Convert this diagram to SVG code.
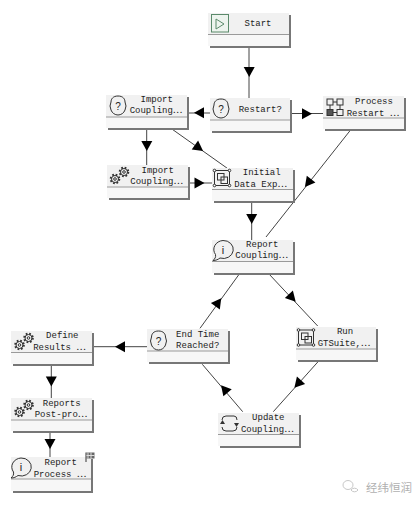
<svg xmlns="http://www.w3.org/2000/svg" width="418" height="505" viewBox="0 0 418 505">
<style>
.t{font-family:"Liberation Mono","DejaVu Sans Mono",monospace;font-size:9px;fill:#222;text-anchor:middle}
.e{font-family:"Noto Sans CJK SC",sans-serif}
.box{fill:#f1f1f1}
.low{fill:#f7f7f7}
.sh{fill:#777;filter:url(#b)}
.div{stroke:#9a9a9a;stroke-width:1;fill:none}
.i{fill:none;stroke:#333;stroke-width:1}
.c{stroke:#444;stroke-width:1;fill:none}
.wm{font-family:"Noto Sans CJK SC",sans-serif;font-size:11.5px;fill:#b0b0b0}
</style>
<defs>
<filter id="b" x="-10%" y="-10%" width="120%" height="120%"><feGaussianBlur stdDeviation="0.7"/></filter>
<polygon id="ah" points="5,0 -5,-5.500 -5,5.500" fill="#000"/>
<g id="q"><path class="i" d="M8 0C3 0 1 3 1 6L0 10L1 14C2 17 5 19 8 19C11 19 14 17 15 14L16 10L15 6C15 3 13 0 8 0Z"/><text x="8" y="13.500" class="t" style="font-family:'Liberation Sans',sans-serif;font-size:10px">?</text></g>
<g id="gear"><g class="i"><circle cx="6" cy="12" r="4.300" stroke-width="2" stroke-dasharray="1.700 1.700"/><circle cx="6" cy="12" r="3.500"/><circle cx="6" cy="12" r="1.300"/><circle cx="15" cy="5" r="4.300" stroke-width="2" stroke-dasharray="1.700 1.700"/><circle cx="15" cy="5" r="3.500"/><circle cx="15" cy="5" r="1.300"/></g></g>
<g id="info"><path class="i" d="M10 0A10 9 0 1 1 7 17.500C5 19 3 20 0 20C2 18 3 17 2.500 14A10 9 0 0 1 10 0Z"/><text x="10" y="13" class="t" style="font-family:'Liberation Sans',sans-serif;font-size:11px">i</text></g>
<g id="frame"><rect class="i" x="1" y="1" width="15" height="15" stroke-width="1.200"/><rect class="i" x="4" y="4" width="6.500" height="6.500"/><rect class="i" x="7.500" y="7.500" width="6.500" height="6.500"/><g fill="#fff" stroke="#333"><circle cx="1" cy="1" r="1.300"/><circle cx="16" cy="1" r="1.300"/><circle cx="1" cy="16" r="1.300"/><circle cx="16" cy="16" r="1.300"/></g></g>
</defs>

<g id="connectors">
<path class="c" d="M249 46V98M187 113H210M290 113.500H323M146.700 128V165M172.300 129.300L227.300 168.300M188 183H212M350 130.700L266 237M251.700 201V240M239.300 274L200 328.300M269 274L317.700 326M318.700 361L273.300 411.700M242.700 411.700L202.300 364.300M147 346.700H92M51.300 365V398M50 432V457"/>
<use href="#ah" transform="translate(249.200,72) rotate(90)"/>
<use href="#ah" transform="translate(199,112.700) rotate(180)"/>
<use href="#ah" transform="translate(307,113.700)"/>
<use href="#ah" transform="translate(146.800,146) rotate(90)"/>
<use href="#ah" transform="translate(199,148) rotate(35.300)"/>
<use href="#ah" transform="translate(199.500,183)"/>
<use href="#ah" transform="translate(308,183) rotate(128.400)"/>
<use href="#ah" transform="translate(251.700,219) rotate(90)"/>
<use href="#ah" transform="translate(218.300,302.300) rotate(-54)"/>
<use href="#ah" transform="translate(292.300,298) rotate(46.900)"/>
<use href="#ah" transform="translate(297.700,384) rotate(131.800)"/>
<use href="#ah" transform="translate(224.300,389) rotate(-130.400)"/>
<use href="#ah" transform="translate(120,346.700) rotate(180)"/>
<use href="#ah" transform="translate(51.300,381.500) rotate(90)"/>
<use href="#ah" transform="translate(50,444) rotate(90)"/>
</g>

<g id="n-start"><rect class="sh" x="210" y="15" width="81" height="33"/><rect class="low" x="208" y="13" width="81" height="33"/><rect class="box" x="208" y="13" width="81" height="21"/><path class="div" d="M208 34.500H289"/><rect x="211.500" y="14.500" width="17" height="17.500" fill="#edf4ee" stroke="#5b8a6b"/><path d="M216 19V29L224 24Z" fill="none" stroke="#5b8a6b"/><text class="t" x="258" y="26">Start</text></g>

<g id="n-import1"><rect class="sh" x="108" y="97" width="81" height="33"/><rect class="low" x="106" y="95" width="81" height="33"/><rect class="box" x="106" y="95" width="81" height="22"/><path class="div" d="M106 117H187"/><use href="#q" x="110" y="96"/><text class="t" x="156.700" y="101.700">Import</text><text class="t" x="156" y="113">Coupling<tspan class="e">…</tspan></text></g>

<g id="n-restart"><rect class="sh" x="212" y="100" width="80" height="33"/><rect class="low" x="210" y="98" width="80" height="33"/><rect class="box" x="210" y="98" width="80" height="22"/><path class="div" d="M210 120H290"/><use href="#q" x="213" y="99"/><text class="t" x="260.300" y="111.700">Restart?</text></g>

<g id="n-process"><rect class="sh" x="325" y="98" width="81" height="33"/><rect class="low" x="323" y="96" width="81" height="33"/><rect class="box" x="323" y="96" width="81" height="22"/><path class="div" d="M323 118H404"/><g class="i"><rect x="327" y="99" width="6" height="6"/><rect x="337" y="99" width="6" height="6"/><rect x="327" y="109.500" width="6" height="6" fill="#555"/><rect x="337" y="109.500" width="6" height="6"/><path d="M333 102H337M333 112.500H337M330 105V109.500M340 105V109.500"/></g><text class="t" x="374" y="104">Process</text><text class="t" x="373" y="115.700">Restart <tspan class="e">…</tspan></text></g>

<g id="n-import2"><rect class="sh" x="109" y="167" width="81" height="33"/><rect class="low" x="107" y="165" width="81" height="33"/><rect class="box" x="107" y="165" width="81" height="22"/><path class="div" d="M107 187H188"/><use href="#gear" x="109" y="167"/><text class="t" x="157.700" y="172.700">Import</text><text class="t" x="156.700" y="184">Coupling<tspan class="e">…</tspan></text></g>

<g id="n-initial"><rect class="sh" x="214" y="170" width="81" height="33"/><rect class="low" x="212" y="168" width="81" height="33"/><rect class="box" x="212" y="168" width="81" height="21"/><path class="div" d="M212 189.500H293"/><use href="#frame" x="213.500" y="169.500"/><text class="t" x="261.700" y="175">Initial</text><text class="t" x="260.700" y="186.700">Data Exp<tspan class="e">…</tspan></text></g>

<g id="n-report"><rect class="sh" x="214" y="242" width="81" height="33"/><rect class="low" x="212" y="240" width="81" height="33"/><rect class="box" x="212" y="240" width="81" height="21"/><path class="div" d="M212 261.500H293"/><use href="#info" x="213" y="240.500"/><text class="t" x="262.300" y="246.700">Report</text><text class="t" x="261.700" y="258.300">Coupling<tspan class="e">…</tspan></text></g>

<g id="n-endtime"><rect class="sh" x="149" y="331" width="81" height="33"/><rect class="low" x="147" y="329" width="81" height="33"/><rect class="box" x="147" y="329" width="81" height="22"/><path class="div" d="M147 351H228"/><use href="#q" x="150.500" y="331"/><text class="t" x="197.700" y="336.700">End Time</text><text class="t" x="197.700" y="348">Reached?</text></g>

<g id="n-run"><rect class="sh" x="298" y="329" width="80" height="33"/><rect class="low" x="296" y="327" width="80" height="33"/><rect class="box" x="296" y="327" width="80" height="22"/><path class="div" d="M296 349H376"/><use href="#frame" x="297.500" y="329"/><text class="t" x="345" y="334">Run</text><text class="t" x="344" y="345.700">GTSuite,<tspan class="e">…</tspan></text></g>

<g id="n-update"><rect class="sh" x="220" y="415" width="81" height="33"/><rect class="low" x="218" y="413" width="81" height="33"/><rect class="box" x="218" y="413" width="81" height="21"/><path class="div" d="M218 434.500H299"/><path class="i" d="M222 420Q222 416 226 416H234Q237 416 237 420M237 427Q237 431 233 431H226Q222 431 222 427" stroke-width="1.300"/><path d="M220 424H225L222.500 420ZM234 423H239L236.500 427Z" fill="#333"/><text class="t" x="268.300" y="420">Update</text><text class="t" x="267.300" y="431.700">Coupling<tspan class="e">…</tspan></text></g>

<g id="n-define"><rect class="sh" x="13" y="333" width="81" height="33"/><rect class="low" x="11" y="331" width="81" height="33"/><rect class="box" x="11" y="331" width="81" height="21"/><path class="div" d="M11 352.500H92"/><use href="#gear" x="13.500" y="333"/><text class="t" x="62.300" y="338.300">Define</text><text class="t" x="59.500" y="350">Results <tspan class="e">…</tspan></text></g>

<g id="n-reports"><rect class="sh" x="13" y="400" width="81" height="33"/><rect class="low" x="11" y="398" width="81" height="33"/><rect class="box" x="11" y="398" width="81" height="22"/><path class="div" d="M11 420H92"/><use href="#gear" x="13.500" y="400"/><text class="t" x="61.700" y="405.700">Reports</text><text class="t" x="61" y="417.300">Post-pro<tspan class="e">…</tspan></text></g>

<g id="n-process-report"><rect class="sh" x="13" y="459" width="80" height="34"/><rect class="low" x="11" y="457" width="80" height="34"/><rect class="box" x="11" y="457" width="80" height="22"/><path class="div" d="M11 479H91"/><use href="#info" x="11" y="458"/><text class="t" x="60.700" y="465">Report</text><text class="t" x="60" y="476.700">Process <tspan class="e">…</tspan></text><path d="M86 452.500V462" stroke="#333" fill="none"/><rect x="86.500" y="452.500" width="8" height="6" fill="#666"/><path d="M88 452.500V458.500M91 452.500V458.500M86.500 455.500H94.500" stroke="#ddd" stroke-width="1" fill="none"/></g>

<g id="watermark"><path d="M343 485A5 4.500 0 0 1 353 485A5 4.500 0 0 1 343 485ZM351 490A4 3.500 0 0 1 358 490A4 3.500 0 0 1 351 490Z" fill="none" stroke="#c8c8c8"/><text class="wm" x="366" y="492">经纬恒润</text></g>
</svg>
